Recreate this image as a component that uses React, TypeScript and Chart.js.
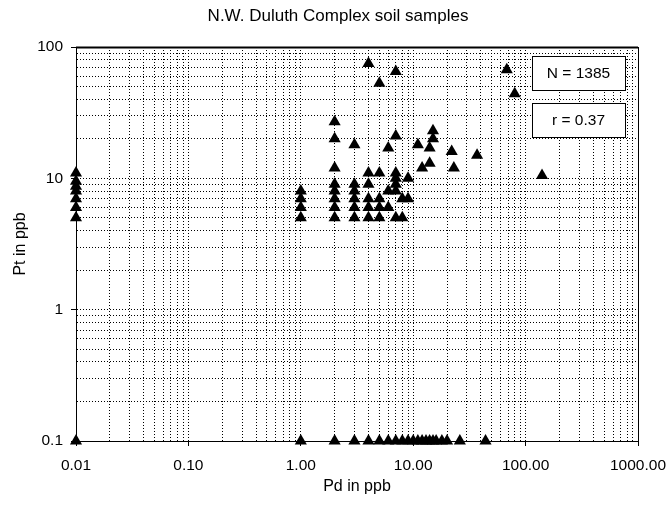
import React, { useEffect, useRef } from 'react';
import { Chart, registerables } from 'chart.js';

Chart.register(...registerables);

const TITLE = 'N.W. Duluth Complex soil samples';
const X_TITLE = 'Pd in ppb';
const Y_TITLE = 'Pt in ppb';
const X_MIN = 0.01;
const X_MAX = 1000;
const Y_MIN = 0.1;
const Y_MAX = 100;
const xTickLabels = ['0.01', '0.10', '1.00', '10.00', '100.00', '1000.00'];
const yTickLabels = ['0.1', '1', '10', '100'];
const statLabels = ['N = 1385', 'r = 0.37'];

// Pd (x) and Pt (y) values of the plotted samples
const pdValues = [
  0.01, 0.01, 0.01, 0.01, 0.01, 0.01, 0.01, 0.01,
  1, 1, 1, 1, 1,
  2, 2, 2, 2, 2, 2, 2, 2, 2,
  3, 3, 3, 3, 3, 3, 3,
  4, 4, 4, 4, 4, 4, 4,
  5, 5, 5, 5, 5, 5,
  6, 6, 6, 6,
  7, 7, 7, 7, 7, 7, 7, 7,
  8, 8, 8,
  9, 9, 9,
  10, 11, 12, 13, 14, 15, 16, 18, 20, 26, 44,
  11, 14, 15, 15, 12, 14, 22, 23, 37, 68, 80, 140,
];
const ptValues = [
  11, 9.5, 8.7, 8, 7, 6, 5, 0.1,
  8, 7, 6, 5, 0.1,
  27, 20, 12, 9, 8, 7, 6, 5, 0.1,
  18, 9, 8, 7, 6, 5, 0.1,
  75, 11, 9, 7, 6, 5, 0.1,
  53, 11, 7, 6, 5, 0.1,
  17, 8, 6, 0.1,
  65, 21, 11, 10, 9, 8, 5, 0.1,
  7, 5, 0.1,
  10, 7, 0.1,
  0.1, 0.1, 0.1, 0.1, 0.1, 0.1, 0.1, 0.1, 0.1, 0.1, 0.1,
  18, 17, 23, 20, 12, 13, 16, 12, 15, 67, 44, 10.5,
];

const FONT = 'Arial, "Liberation Sans", sans-serif';

function logTicks(min: number, max: number) {
  const out: { value: number; major: boolean }[] = [];
  const e0 = Math.round(Math.log10(min));
  const e1 = Math.round(Math.log10(max));
  for (let e = e0; e < e1; e++) {
    for (let m = 1; m <= 9; m++) {
      const v = parseFloat((m * Math.pow(10, e)).toPrecision(6));
      out.push({ value: v, major: m === 1 });
    }
  }
  out.push({ value: max, major: true });
  return out;
}

const isMajorValue = (v: number) => {
  const lg = Math.log10(v);
  return Math.abs(lg - Math.round(lg)) < 1e-6;
};

const framePlugin = {
  id: 'frameAndStats',
  afterDraw(chart: any) {
    const { ctx, chartArea } = chart;
    const { left, right, top, bottom } = chartArea;
    ctx.save();
    ctx.strokeStyle = '#000';
    ctx.lineWidth = 1;
    ctx.setLineDash([]);
    ctx.strokeRect(left + 0.5, top + 0.5, right - left, bottom - top);
    ctx.lineWidth = 2;
    ctx.beginPath();
    ctx.moveTo(left, top + 0.5);
    ctx.lineTo(right, top + 0.5);
    ctx.stroke();
    // title
    ctx.fillStyle = '#000';
    ctx.font = `17px ${FONT}`;
    ctx.textAlign = 'center';
    ctx.textBaseline = 'middle';
    ctx.fillText(TITLE, 338, 16);
    // stat boxes
    const boxes = [
      { x: 532, y: 56, w: 93, h: 34 },
      { x: 532, y: 103, w: 93, h: 34 },
    ];
    ctx.font = `15.5px ${FONT}`;
    ctx.lineWidth = 1;
    boxes.forEach((b, i) => {
      ctx.fillStyle = '#fff';
      ctx.fillRect(b.x, b.y, b.w, b.h);
      ctx.strokeStyle = '#000';
      ctx.strokeRect(b.x + 0.5, b.y + 0.5, b.w, b.h);
      ctx.fillStyle = '#000';
      ctx.fillText(statLabels[i], b.x + b.w / 2, b.y + b.h / 2 + 1);
    });
    ctx.restore();
  },
};

export default function App() {
  const ref = useRef<HTMLCanvasElement | null>(null);
  useEffect(() => {
    if (!ref.current) return;
    const data = pdValues.map((x, i) => ({ x, y: ptValues[i] }));
    const gridOpts = {
      color: '#000',
      lineWidth: 1,
      drawTicks: true,
      tickLength: 5,
      tickBorderDash: [],
      tickColor: (c: any) => (c.tick && c.tick.major ? '#000' : 'rgba(0,0,0,0)'),
    };
    const chart = new Chart(ref.current, {
      type: 'scatter',
      data: {
        datasets: [
          {
            data,
            pointStyle: 'triangle',
            radius: 7,
            backgroundColor: '#000',
            borderColor: '#000',
            borderWidth: 0,
            clip: false as any,
          },
        ],
      },
      options: {
        animation: false,
        responsive: false,
        layout: { padding: { top: 47, right: 30, left: 0, bottom: 0 } },
        plugins: {
          legend: { display: false },
          tooltip: { enabled: false },
        },
        scales: {
          x: {
            type: 'logarithmic',
            min: X_MIN,
            max: X_MAX,
            afterBuildTicks: (scale: any) => {
              scale.ticks = logTicks(X_MIN, X_MAX);
            },
            afterFit: (scale: any) => {
              scale.height = 65;
              scale.paddingLeft = 0;
              scale.paddingRight = 0;
            },
            grid: { ...gridOpts } as any,
            border: { display: true, color: '#000', width: 1, dash: [1, 2] } as any,
            ticks: {
              autoSkip: false,
              maxRotation: 0,
              padding: 10,
              color: '#000',
              font: { family: FONT, size: 15.5 },
              callback: (v: any) => {
                const n = Number(v);
                return isMajorValue(n) ? xTickLabels[Math.round(Math.log10(n)) + 2] : '';
              },
            },
            title: {
              display: true,
              text: X_TITLE,
              color: '#000',
              font: { family: FONT, size: 16 },
              padding: { top: 0, bottom: 10 },
            },
          },
          y: {
            type: 'logarithmic',
            min: Y_MIN,
            max: Y_MAX,
            afterBuildTicks: (scale: any) => {
              scale.ticks = logTicks(Y_MIN, Y_MAX);
            },
            afterFit: (scale: any) => {
              scale.width = 76;
              scale.paddingTop = 0;
              scale.paddingBottom = 0;
            },
            grid: { ...gridOpts } as any,
            border: { display: true, color: '#000', width: 1, dash: [1, 2] } as any,
            ticks: {
              autoSkip: false,
              padding: 8,
              color: '#000',
              font: { family: FONT, size: 15.5 },
              callback: (v: any) => {
                const n = Number(v);
                return isMajorValue(n) ? yTickLabels[Math.round(Math.log10(n)) + 1] : '';
              },
            },
            title: {
              display: true,
              text: Y_TITLE,
              color: '#000',
              font: { family: FONT, size: 16 },
              padding: { top: 11, bottom: 0 },
            },
          },
        },
      },
      plugins: [framePlugin],
    });
    return () => chart.destroy();
  }, []);
  return (
    <div style={{ position: 'absolute', left: 0, top: 0, width: 668, height: 506 }}>
      <canvas ref={ref} width={668} height={506} style={{ width: 668, height: 506 }} />
    </div>
  );
}
